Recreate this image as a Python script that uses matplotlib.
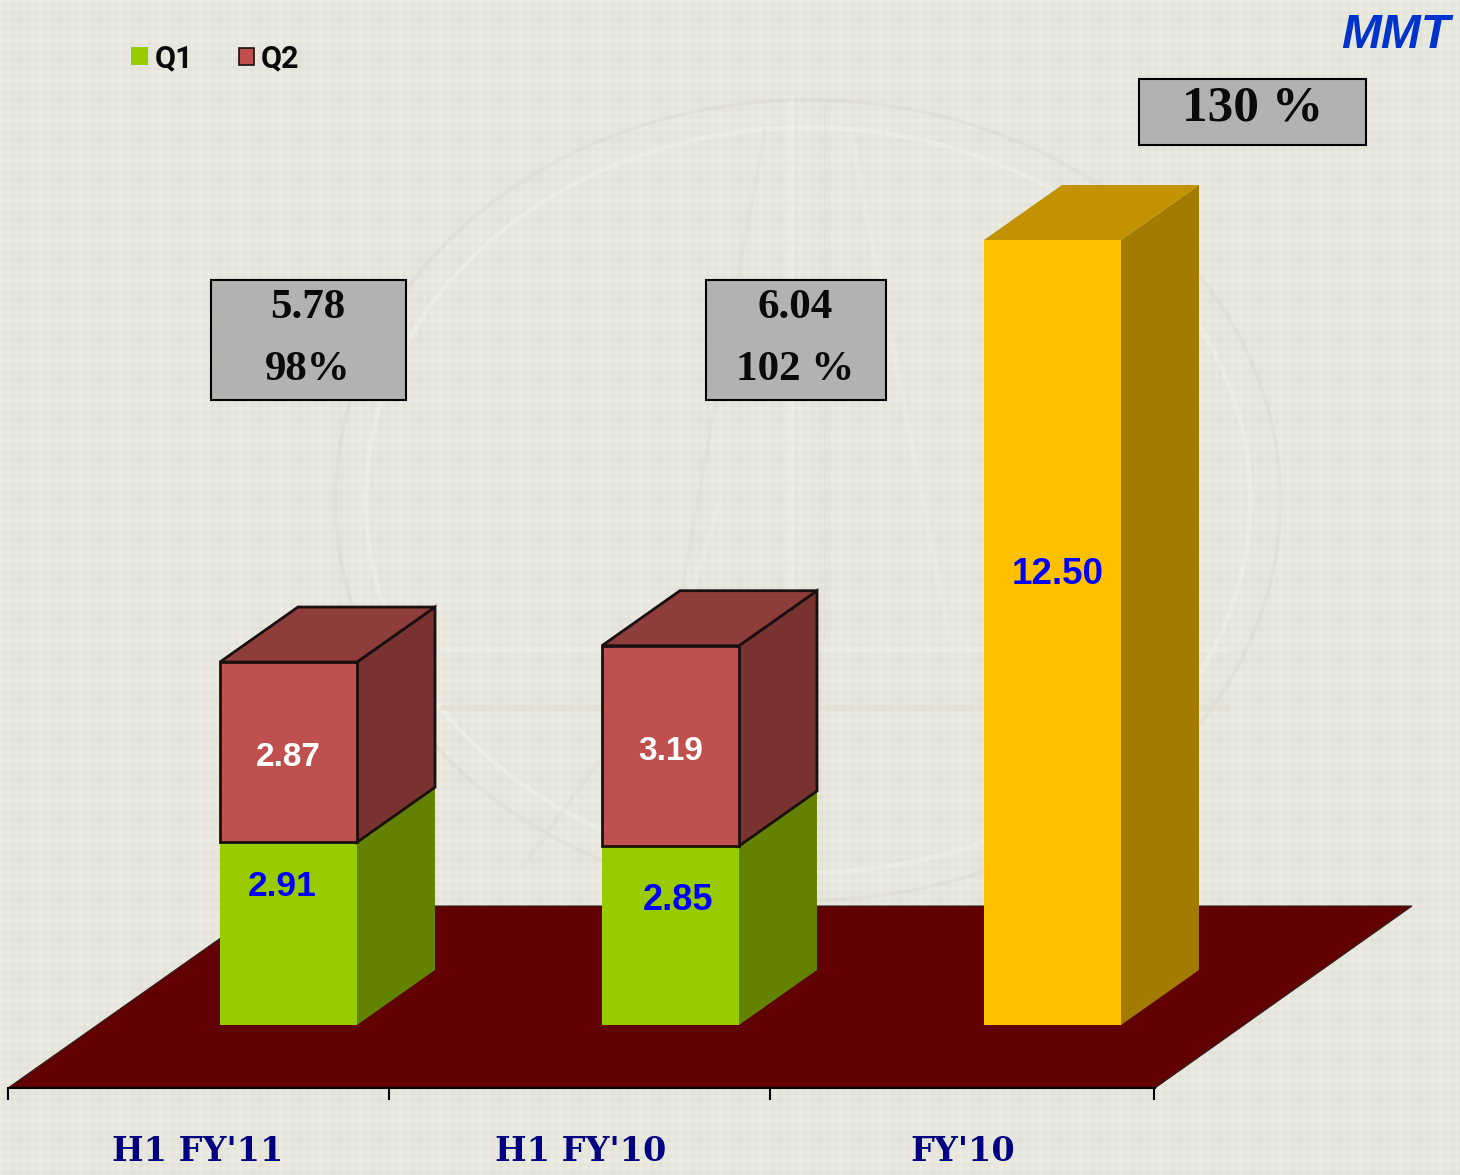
import numpy as np
import matplotlib
matplotlib.use("Agg")
import matplotlib.pyplot as plt
from matplotlib.patches import Polygon, Rectangle, Ellipse

# ---- data ----
categories = ["H1 FY'11", "H1 FY'10", "FY'10"]
q1_values = [2.91, 2.85, 0]
q2_values = [2.87, 3.19, 0]
fy_values = [0, 0, 12.50]
q1_labels = ["2.91", "2.85"]
q2_labels = ["2.87", "3.19"]
fy_label = "12.50"
box_lines = ["5.78\n98%", "6.04\n102 %", "130 %"]

# ---- layout (pixels of the 1460x1175 canvas) ----
W, H = 1460, 1175
BASE_PX, PX_PER_VAL = 1025.0, 62.8
CAT0_PX, PX_PER_CAT = 288.5, 382.0
BAR_W = 137 / PX_PER_CAT
DX = 78 / PX_PER_CAT
DY = 55 / PX_PER_VAL

def dx(px): return (px - CAT0_PX) / PX_PER_CAT
def dy(py): return (BASE_PX - py) / PX_PER_VAL

fig = plt.figure(figsize=(W / 100, H / 100), dpi=100)

# fine woven background
yy, xx = np.mgrid[0:H, 0:W]
tex = 0.009 * np.cos(2 * np.pi * xx / 8.0) + 0.009 * np.cos(2 * np.pi * yy / 8.0) \
    + 0.005 * np.cos(2 * np.pi * xx / 40.0) + 0.005 * np.cos(2 * np.pi * yy / 40.0)
img = np.dstack([0.905 + tex, 0.905 + tex, 0.870 + tex])
fig.figimage(np.clip(img, 0, 1), zorder=-5, origin="upper")

ax = fig.add_axes([0, 0, 1, 1])
ax.patch.set_alpha(0)
ax.set_xlim(dx(0), dx(W))
ax.set_ylim(dy(H), dy(0))

# faint watermark
wm = dict(fill=False, zorder=0.5)
cx, cy = dx(808), dy(500)
ax.add_patch(Ellipse((cx, cy), 945 / PX_PER_CAT, 800 / PX_PER_VAL, ec="#dcd6cc", lw=2.5, alpha=0.4, **wm))
ax.add_patch(Ellipse((cx, cy), 885 / PX_PER_CAT, 745 / PX_PER_VAL, ec="#f3f4ee", lw=3.5, alpha=0.45, **wm))
for (a, b), col, lw in [(((765, 130), (680, 600)), "#dfd9d0", 2.5), (((790, 100), (790, 640)), "#f3f4ee", 5),
                        (((825, 100), (825, 640)), "#d9d8cc", 1.5), (((850, 130), (950, 640)), "#f0efe8", 4),
                        (((440, 650), (1230, 650)), "#f2f3ec", 4), (((440, 708), (1230, 708)), "#e2dccf", 4),
                        (((720, 500), (640, 760)), "#f0f0e8", 4), (((600, 760), (520, 870)), "#dfdcd2", 3)]:
    ax.plot([dx(a[0]), dx(b[0])], [dy(a[1]), dy(b[1])], color=col, lw=lw, alpha=0.4, zorder=0.6, solid_capstyle="butt")

# floor
fl_y0, fl_y1 = dy(1088), dy(906)
ax.add_patch(Polygon([(dx(8), fl_y0), (dx(1155), fl_y0), (dx(1412), fl_y1), (dx(266), fl_y1)],
                     closed=True, fc="#600000", ec="#302020", lw=0.8, zorder=1))

def box3d(x, bottom, height, front, top, side, edge=None):
    l, r = x - BAR_W / 2, x + BAR_W / 2
    b, t = bottom, bottom + height
    kw = dict(zorder=2, joinstyle="miter")
    if edge:
        kw.update(ec=edge, lw=2)
    else:
        kw.update(ec="none")
    ax.add_patch(Polygon([(r, b), (r + DX, b + DY), (r + DX, t + DY), (r, t)], closed=True, fc=side, **kw))
    ax.add_patch(Polygon([(l, t), (r, t), (r + DX, t + DY), (l + DX, t + DY)], closed=True, fc=top, **kw))
    ax.add_patch(Rectangle((l, b), BAR_W, height, fc=front, **kw))

x_pos = np.arange(len(categories))
for i in x_pos:
    if q1_values[i] > 0:
        box3d(x_pos[i], 0, q1_values[i], "#99CC00", "#7a9f00", "#628200")
        box3d(x_pos[i], q1_values[i], q2_values[i], "#C0504D", "#8F3D3A", "#7A3230", edge="#1a1010")
    if fy_values[i] > 0:
        box3d(x_pos[i], 0, fy_values[i], "#FFC000", "#C29200", "#A37B00")

# data labels
SANS = "Liberation Sans"
lab = dict(family=SANS, fontweight="bold", ha="center", va="center", zorder=5)
ax.text(dx(282), dy(886), q1_labels[0], color="#0000FF", fontsize=25.5, **lab)
ax.text(dx(678), dy(900), q1_labels[1], color="#0000FF", fontsize=26, **lab)
ax.text(dx(288.5), dy(757), q2_labels[0], color="white", fontsize=24, **lab)
ax.text(dx(671), dy(751), q2_labels[1], color="white", fontsize=24, **lab)
ax.text(dx(1058), dy(575), fy_label, color="#0000FF", fontsize=26.5, **lab)

# annotation boxes
for (x0, y0, x1, y1), txt, xc, ys, fs in [((211, 280, 406, 400), box_lines[0], 307.5, (307.5, 369.5), 31),
                                          ((706, 280, 886, 400), box_lines[1], 795.5, (307.5, 369.5), 31),
                                          ((1139, 79, 1366, 145), box_lines[2], 1252.5, (108.5,), 37)]:
    ax.add_patch(Rectangle((dx(x0), dy(y1)), (x1 - x0) / PX_PER_CAT, (y1 - y0) / PX_PER_VAL,
                           fc="#B2B2B2", ec="black", lw=1.5, zorder=4))
    for line, y in zip(txt.split("\n"), ys):
        ax.text(dx(xc), dy(y), line, family="Liberation Serif", fontweight="bold", fontsize=fs,
                ha="center", va="center", color="#0a0a0a", zorder=5)

# legend
ax.add_patch(Rectangle((dx(131), dy(65)), 17 / PX_PER_CAT, 18 / PX_PER_VAL, fc="#99CC00", ec="none", zorder=5))
ax.add_patch(Rectangle((dx(239), dy(65)), 15 / PX_PER_CAT, 17 / PX_PER_VAL, fc="#C0504D", ec="#1a1010", lw=1.2, zorder=5))
ax.text(dx(155), dy(58), "Q1", family="Roboto", fontweight="bold", fontsize=22, va="center", ha="left", color="#0a0a0a")
ax.text(dx(261), dy(58), "Q2", family="Roboto", fontweight="bold", fontsize=22, va="center", ha="left", color="#0a0a0a")

# corner title
ax.text(dx(1450), dy(36), "MMT", family=SANS, fontweight="bold", style="italic", fontsize=34.5,
        color="#0033CC", ha="right", va="center")

# category axis
for s in ("top", "left", "right"):
    ax.spines[s].set_visible(False)
ax.spines["bottom"].set_position(("data", fl_y0))
ax.spines["bottom"].set_bounds(dx(8), dx(1155))
ax.spines["bottom"].set_linewidth(1.5)
ax.spines["bottom"].set_zorder(3)
ax.set_yticks([])
ax.set_xticks([dx(8), dx(389), dx(770), dx(1154)])
ax.set_xticklabels([])
ax.tick_params(axis="x", which="major", length=8.6, width=1.5, direction="out")
ax.set_xticks([dx(198), dx(581), dx(963)], minor=True)
ax.set_xticklabels(categories, minor=True, family="DejaVu Serif", fontweight="bold", fontsize=24, color="#000080")
ax.tick_params(axis="x", which="minor", length=0, pad=33.5)

fig.savefig("out.png", dpi=100)
